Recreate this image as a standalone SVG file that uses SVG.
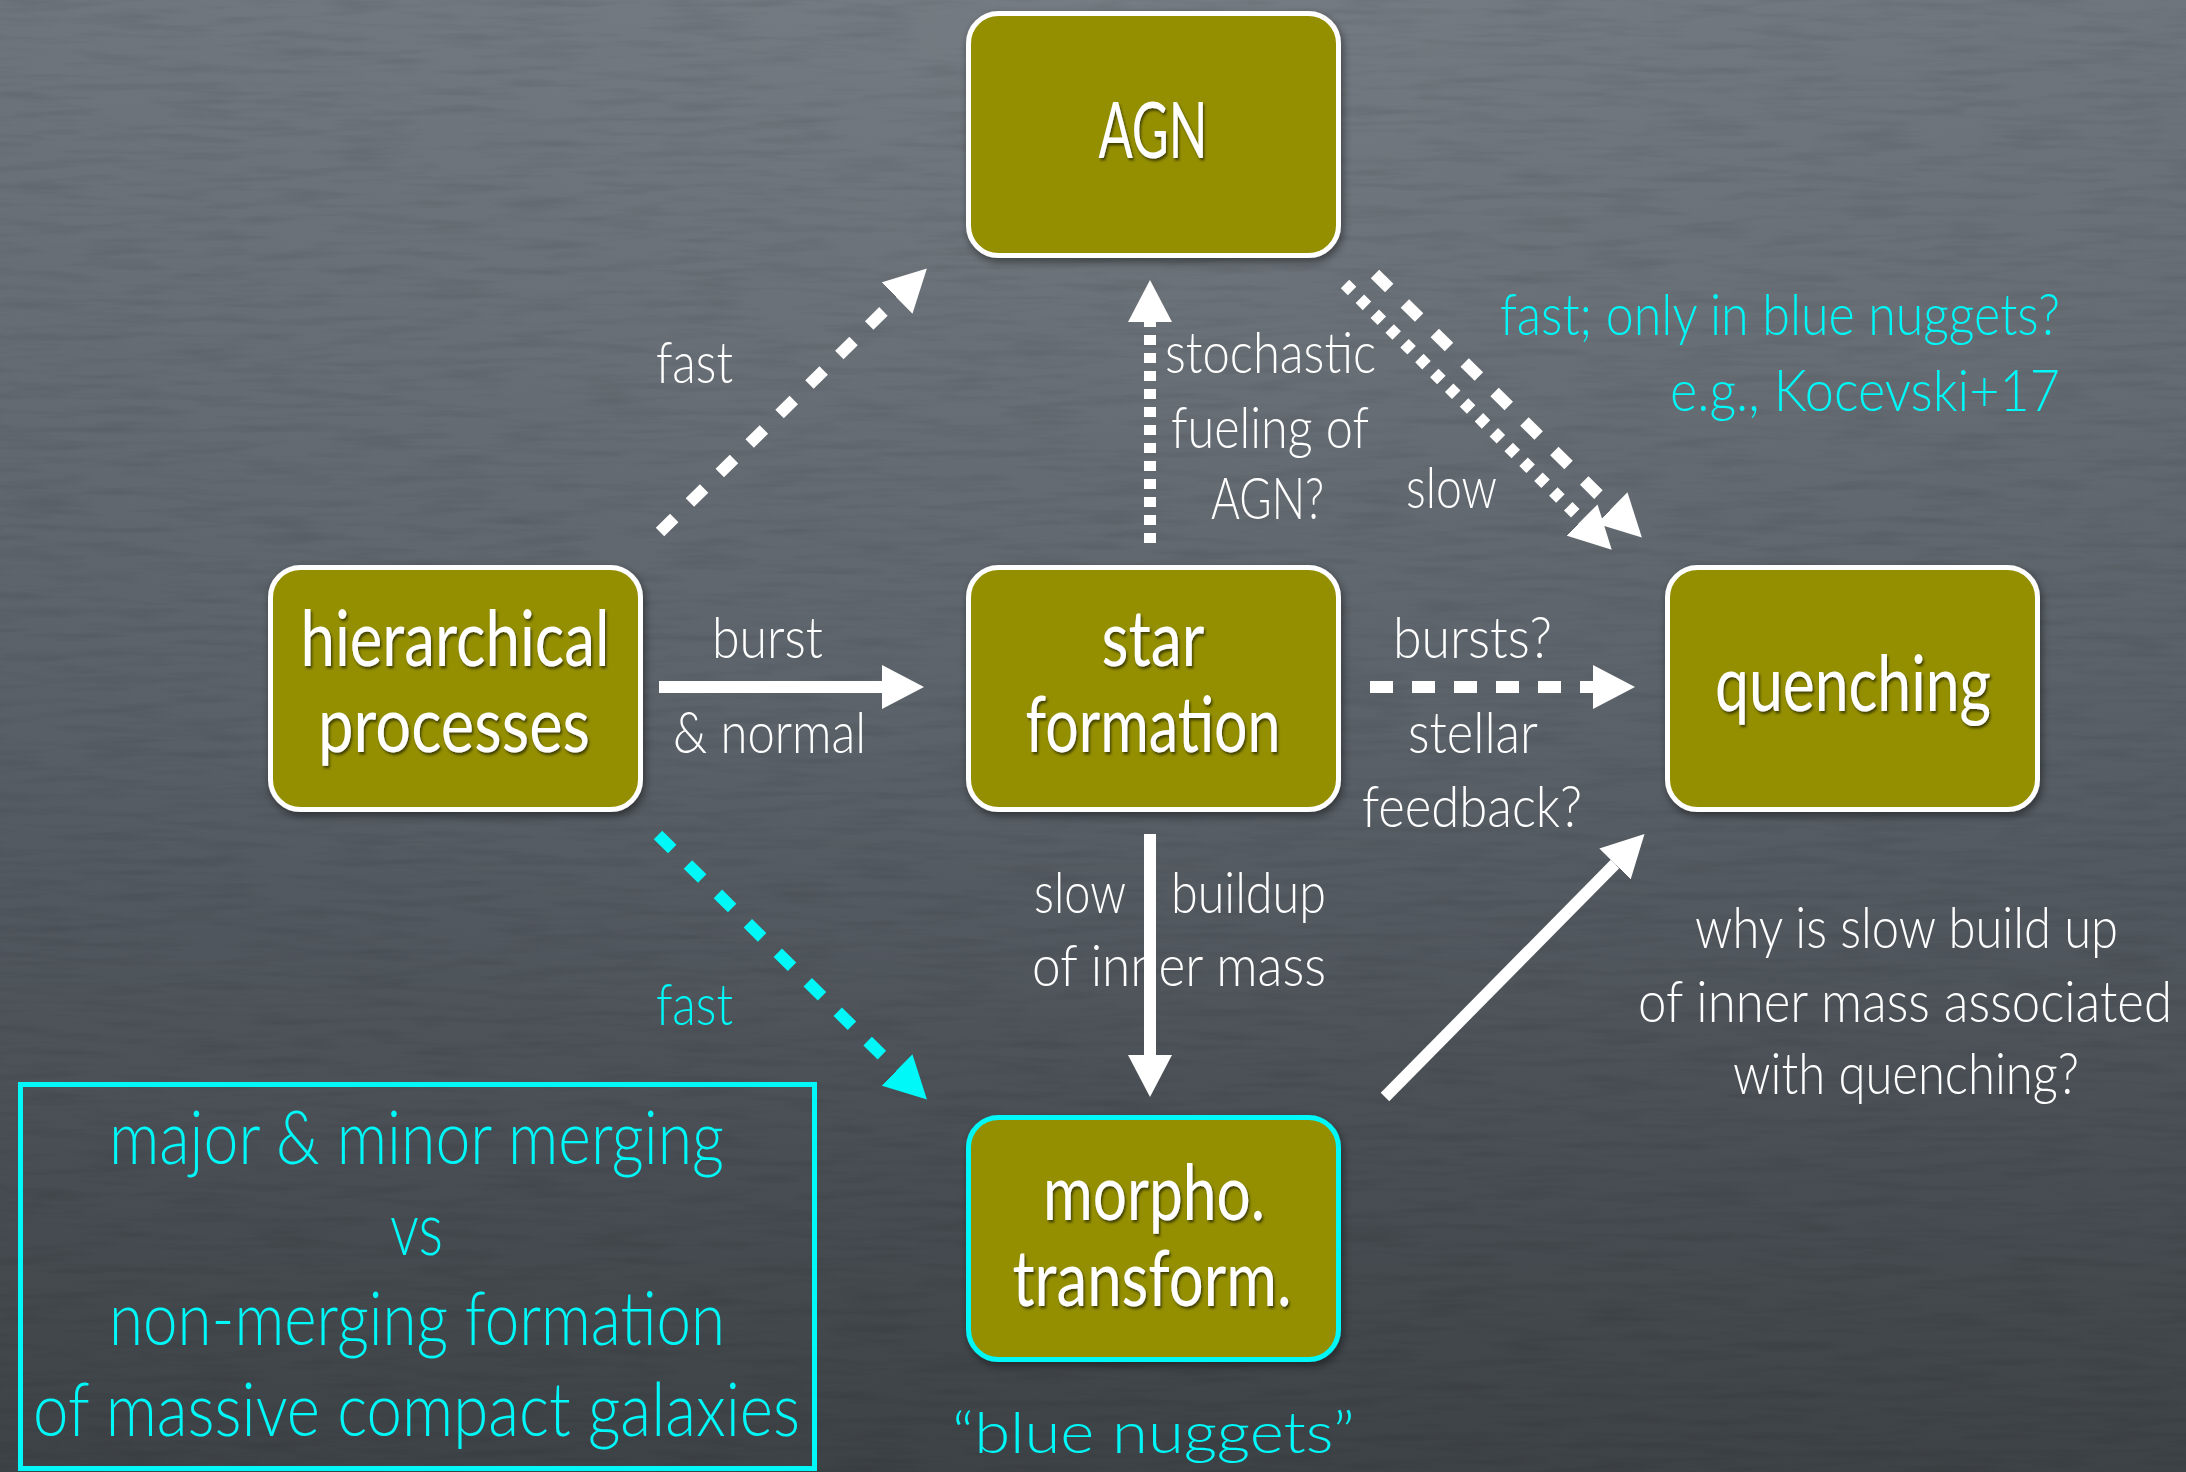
<svg xmlns="http://www.w3.org/2000/svg" width="2186" height="1472" viewBox="0 0 2186 1472">
<defs>
  <linearGradient id="bg" x1="0" y1="0" x2="0" y2="1">
    <stop offset="0" stop-color="#6b7279"/>
    <stop offset="0.5" stop-color="#575e65"/>
    <stop offset="1" stop-color="#3d4246"/>
  </linearGradient>
  <radialGradient id="glow" cx="0.5" cy="0" r="0.75">
    <stop offset="0" stop-color="#ffffff" stop-opacity="0.07"/>
    <stop offset="1" stop-color="#ffffff" stop-opacity="0"/>
  </radialGradient>
  <filter id="grain" x="0" y="0" width="100%" height="100%">
    <feTurbulence type="fractalNoise" baseFrequency="0.012 0.12" numOctaves="3" seed="4" result="n"/>
    <feColorMatrix in="n" type="matrix" values="0 0 0 0 0  0 0 0 0 0  0 0 0 0 0  0 0 0 -0.9 0.5"/>
  </filter>
  <filter id="boxshadow" x="-10%" y="-10%" width="125%" height="125%">
    <feDropShadow dx="2" dy="4" stdDeviation="4" flood-color="#000" flood-opacity="0.45"/>
  </filter>
  <filter id="txtshadow" x="-5%" y="-10%" width="110%" height="125%">
    <feDropShadow dx="1.5" dy="2.5" stdDeviation="1.2" flood-color="#2b2a00" flood-opacity="0.75"/>
  </filter>
  <marker id="aw" markerUnits="userSpaceOnUse" viewBox="0 -22 42 44" refX="0" refY="0" markerWidth="42" markerHeight="44" orient="auto">
    <path d="M0,-22 L42,0 L0,22 z" fill="#ffffff"/>
  </marker>
  <marker id="ac" markerUnits="userSpaceOnUse" viewBox="0 -22 42 44" refX="0" refY="0" markerWidth="42" markerHeight="44" orient="auto">
    <path d="M0,-22 L42,0 L0,22 z" fill="#00f8f8"/>
  </marker>
  <style>
    .node rect { fill: #948f00; stroke: #ffffff; stroke-width: 5; filter: url(#boxshadow); }
    .node.cy rect { stroke: #00f8f8; }
    .nt { font-family: "Lato", "Open Sans", "Liberation Sans", sans-serif; font-size: 78px; fill: #ffffff; text-anchor: middle; filter: url(#txtshadow); }
    .lb { font-family: "Lato", "Open Sans", "Liberation Sans", sans-serif; font-weight: 300; font-size: 57px; fill: #ffffff; }
    .cy { fill: #00f8f8; }
    .big { font-size: 74px; }
    .conn { fill: none; stroke: #ffffff; stroke-width: 12; }
    .conn.cyan { stroke: #00f8f8; }
  </style>
</defs>

<rect x="0" y="0" width="2186" height="1472" fill="url(#bg)"/>
<rect x="0" y="0" width="2186" height="1472" fill="url(#glow)"/>
<rect x="0" y="0" width="2186" height="1472" filter="url(#grain)" opacity="0.18"/>

<!-- nodes -->
<g id="node-agn" class="node">
  <rect x="968.5" y="13.5" width="370" height="242" rx="30"/>
  <text class="nt" x="1153" y="158" textLength="109" lengthAdjust="spacingAndGlyphs">AGN</text>
</g>
<g id="node-hierarchical" class="node">
  <rect x="270.5" y="567.5" width="370" height="242" rx="30"/>
  <text class="nt" x="455" y="666" textLength="309" lengthAdjust="spacingAndGlyphs">hierarchical</text>
  <text class="nt" x="454" y="752" textLength="272" lengthAdjust="spacingAndGlyphs">processes</text>
</g>
<g id="node-star-formation" class="node">
  <rect x="968.5" y="567.5" width="370" height="242" rx="30"/>
  <text class="nt" x="1153" y="666" textLength="103" lengthAdjust="spacingAndGlyphs">star</text>
  <text class="nt" x="1153" y="752" textLength="255" lengthAdjust="spacingAndGlyphs">formation</text>
</g>
<g id="node-quenching" class="node">
  <rect x="1667.5" y="567.5" width="370" height="242" rx="30"/>
  <text class="nt" x="1853" y="711" textLength="276" lengthAdjust="spacingAndGlyphs">quenching</text>
</g>
<g id="node-morpho" class="node cy">
  <rect x="968.5" y="1117.5" width="370" height="242" rx="30"/>
  <text class="nt" x="1154" y="1220" textLength="222" lengthAdjust="spacingAndGlyphs">morpho.</text>
  <text class="nt" x="1152" y="1306" textLength="279" lengthAdjust="spacingAndGlyphs">transform.</text>
</g>
<g id="node-merging-box">
  <rect x="20.5" y="1084.5" width="794" height="384" fill="none" stroke="#00f8f8" stroke-width="5"/>
  <text class="lb cy big" x="109" y="1164" textLength="615" lengthAdjust="spacingAndGlyphs">major &amp; minor merging</text>
  <text class="lb cy big" x="390" y="1255" textLength="53" lengthAdjust="spacingAndGlyphs">vs</text>
  <text class="lb cy big" x="109" y="1345" textLength="616" lengthAdjust="spacingAndGlyphs">non-merging formation</text>
  <text class="lb cy big" x="33" y="1436" textLength="767" lengthAdjust="spacingAndGlyphs">of massive compact galaxies</text>
</g>

<!-- labels -->
<g id="labels">
  <text class="lb" x="656" y="383" textLength="77" lengthAdjust="spacingAndGlyphs">fast</text>
  <text class="lb" x="1165" y="373" textLength="211" lengthAdjust="spacingAndGlyphs">stochastic</text>
  <text class="lb" x="1171" y="448" textLength="198" lengthAdjust="spacingAndGlyphs">fueling of</text>
  <text class="lb" x="1211" y="519" textLength="113" lengthAdjust="spacingAndGlyphs">AGN?</text>
  <text class="lb" x="1406" y="508" textLength="91" lengthAdjust="spacingAndGlyphs">slow</text>
  <text class="lb cy" x="1500" y="335" textLength="560" lengthAdjust="spacingAndGlyphs">fast; only in blue nuggets?</text>
  <text class="lb cy" x="1670" y="411" textLength="390" lengthAdjust="spacingAndGlyphs">e.g., Kocevski+17</text>
  <text class="lb" x="712" y="658" textLength="111" lengthAdjust="spacingAndGlyphs">burst</text>
  <text class="lb" x="673" y="753" textLength="193" lengthAdjust="spacingAndGlyphs">&amp; normal</text>
  <text class="lb" x="1393" y="658" textLength="159" lengthAdjust="spacingAndGlyphs">bursts?</text>
  <text class="lb" x="1408" y="753" textLength="130" lengthAdjust="spacingAndGlyphs">stellar</text>
  <text class="lb" x="1362" y="827" textLength="220" lengthAdjust="spacingAndGlyphs">feedback?</text>
  <text class="lb" x="1034" y="913" textLength="92" lengthAdjust="spacingAndGlyphs">slow</text>
  <text class="lb" x="1171" y="913" textLength="155" lengthAdjust="spacingAndGlyphs">buildup</text>
  <text class="lb" x="1032" y="986" textLength="294" lengthAdjust="spacingAndGlyphs">of inner mass</text>
  <text class="lb cy" x="656" y="1025" textLength="77" lengthAdjust="spacingAndGlyphs">fast</text>
  <text class="lb" x="1695" y="948" textLength="423" lengthAdjust="spacingAndGlyphs">why is slow build up</text>
  <text class="lb" x="1638" y="1022" textLength="534" lengthAdjust="spacingAndGlyphs">of inner mass associated</text>
  <text class="lb" x="1733" y="1094" textLength="346" lengthAdjust="spacingAndGlyphs">with quenching?</text>
  <text class="lb cy" x="952" y="1453" font-size="80" textLength="403" lengthAdjust="spacingAndGlyphs">“blue nuggets”</text>
</g>

<!-- connectors -->
<g id="connectors">
  <path class="conn" d="M660,532 L897,298" stroke-dasharray="20 22" marker-end="url(#aw)"/>
  <path class="conn" d="M659,687 L882,687" marker-end="url(#aw)"/>
  <path class="conn" d="M1150,543 L1150,322" stroke-width="10" stroke-dasharray="10 8" marker-end="url(#aw)"/>
  <path class="conn" d="M1345,284 L1582,520" stroke-width="10" stroke-dasharray="10 11" marker-end="url(#aw)"/>
  <path class="conn" d="M1375,274 L1612,508" stroke-dasharray="20 22" marker-end="url(#aw)"/>
  <path class="conn" d="M1370,687 L1593,687" stroke-dasharray="23 19" marker-end="url(#aw)"/>
  <path class="conn" d="M1150,834 L1150,1055" marker-end="url(#aw)"/>
  <path class="conn cyan" d="M658,835 L897,1070" stroke-width="13" stroke-dasharray="20 22" marker-end="url(#ac)"/>
  <path class="conn" d="M1385,1097 L1615,864" marker-end="url(#aw)"/>
</g>
</svg>
